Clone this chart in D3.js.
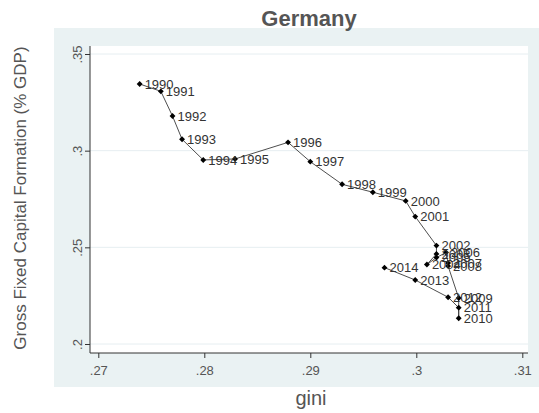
<!DOCTYPE html>
<html>
<head>
<meta charset="utf-8">
<script src="https://cdn.jsdelivr.net/npm/d3@7"></script>
<style>
  body { margin: 0; background: #fff; }
  svg text { font-family: Arial, "Liberation Sans", sans-serif; }
</style>
</head>
<body>
<div id="chart"></div>
<script>
var years = [1990, 1991, 1992, 1993, 1994, 1995, 1996, 1997, 1998, 1999, 2000, 2001,
             2002, 2003, 2004, 2005, 2006, 2007, 2008, 2009, 2010, 2011, 2012, 2013, 2014];
var gini = [.2739, .2759, .2770, .2779, .2799, .2829, .2879, .2900, .2930, .2959, .2990, .2999,
            .3019, .3019, .3010, .3019, .3028, .3030, .3030, .3040, .3040, .3040, .3030, .2999, .2970];
var gfcf = [.3345, .3307, .3179, .3059, .2952, .2957, .3043, .2943, .2826, .2785, .2740, .2659,
            .2509, .2466, .2411, .2447, .2473, .2419, .2403, .2238, .2133, .2188, .2242, .2331, .2395];
var xTicks = [.27, .28, .29, .30, .31];
var yTicks = [.20, .25, .30, .35];

var drawChart = function() {
  var W = 539, H = 413;
  var plot = { left: 90, right: 528, top: 46, bottom: 353 };

  var data = years.map(function(y, i) { return { year: y, x: gini[i], y: gfcf[i] }; });

  var x = d3.scaleLinear().domain([.27, .31]).range([98.3, 522.3]);
  var y = d3.scaleLinear().domain([.2, .35]).range([344, 54]);

  var tickFmt = function(d) { return d3.format(".2f")(d).replace(/^0/, "").replace(/0$/, ""); };

  var svg = d3.select("#chart").append("svg")
    .attr("width", W)
    .attr("height", H);

  // outer graph region
  svg.append("rect").attr("x", 54).attr("y", 28)
    .attr("width", W - 54).attr("height", 387 - 28)
    .attr("fill", "#eaf2f3");
  // plot region
  svg.append("rect").attr("x", plot.left).attr("y", plot.top)
    .attr("width", plot.right - plot.left).attr("height", plot.bottom - plot.top)
    .attr("fill", "#fff");

  // grid lines
  svg.selectAll(".grid").data(yTicks).enter().append("line")
    .attr("x1", plot.left).attr("x2", plot.right)
    .attr("y1", function(d) { return y(d); })
    .attr("y2", function(d) { return y(d); })
    .attr("stroke", "#e6eef1").attr("stroke-width", 1);

  // x axis
  var gx = svg.append("g")
    .attr("transform", "translate(0," + plot.bottom + ")")
    .call(d3.axisBottom(x).tickValues(xTicks).tickSize(5).tickSizeOuter(0).tickFormat(tickFmt));
  gx.select(".domain").attr("d", "M" + plot.left + ",0H" + plot.right).attr("stroke", "#333");
  gx.selectAll(".tick line").attr("stroke", "#333");
  gx.selectAll(".tick text").attr("fill", "#555").attr("font-size", 13).attr("dy", "1.05em")
    .style("font-family", "Arial, 'Liberation Sans', sans-serif");

  // y axis
  var gy = svg.append("g")
    .attr("transform", "translate(" + plot.left + ",0)")
    .call(d3.axisLeft(y).tickValues(yTicks).tickSize(5).tickSizeOuter(0).tickFormat(tickFmt));
  gy.select(".domain").attr("d", "M0," + plot.top + "V" + plot.bottom).attr("stroke", "#333");
  gy.selectAll(".tick line").attr("stroke", "#333");
  gy.selectAll(".tick text").attr("fill", "#555").attr("font-size", 13)
    .attr("x", 0).attr("dy", 0)
    .attr("text-anchor", "middle")
    .attr("transform", "translate(-8,0) rotate(-90)")
    .style("font-family", "Arial, 'Liberation Sans', sans-serif");

  // connecting line
  var line = d3.line()
    .x(function(d) { return x(d.x); })
    .y(function(d) { return y(d.y); });
  svg.append("path")
    .attr("d", line(data))
    .attr("fill", "none")
    .attr("stroke", "#3a3a3a")
    .attr("stroke-width", 0.9);

  // markers
  svg.selectAll(".pt").data(data).enter().append("path")
    .attr("d", d3.symbol(d3.symbolDiamond2, 22))
    .attr("transform", function(d) { return "translate(" + x(d.x) + "," + y(d.y) + ")"; })
    .attr("fill", "#000");

  // marker labels
  svg.selectAll(".lbl").data(data).enter().append("text")
    .attr("x", function(d) { return x(d.x) + 5; })
    .attr("y", function(d) { return y(d.y); })
    .attr("dy", "0.36em")
    .attr("font-size", 13)
    .attr("fill", "#333")
    .text(function(d) { return d.year; });

  // title
  svg.append("text")
    .attr("x", 309).attr("y", 26)
    .attr("text-anchor", "middle")
    .attr("font-size", 22)
    .attr("font-weight", "bold")
    .attr("fill", "#555")
    .text("Germany");

  // x axis title
  svg.append("text")
    .attr("x", 311).attr("y", 405)
    .attr("text-anchor", "middle")
    .attr("font-size", 20)
    .attr("fill", "#555")
    .text("gini");

  // y axis title
  svg.append("text")
    .attr("transform", "translate(26,198) rotate(-90)")
    .attr("text-anchor", "middle")
    .attr("font-size", 17)
    .attr("fill", "#555")
    .text("Gross Fixed Capital Formation (% GDP)");
};

drawChart();
</script>
</body>
</html>
